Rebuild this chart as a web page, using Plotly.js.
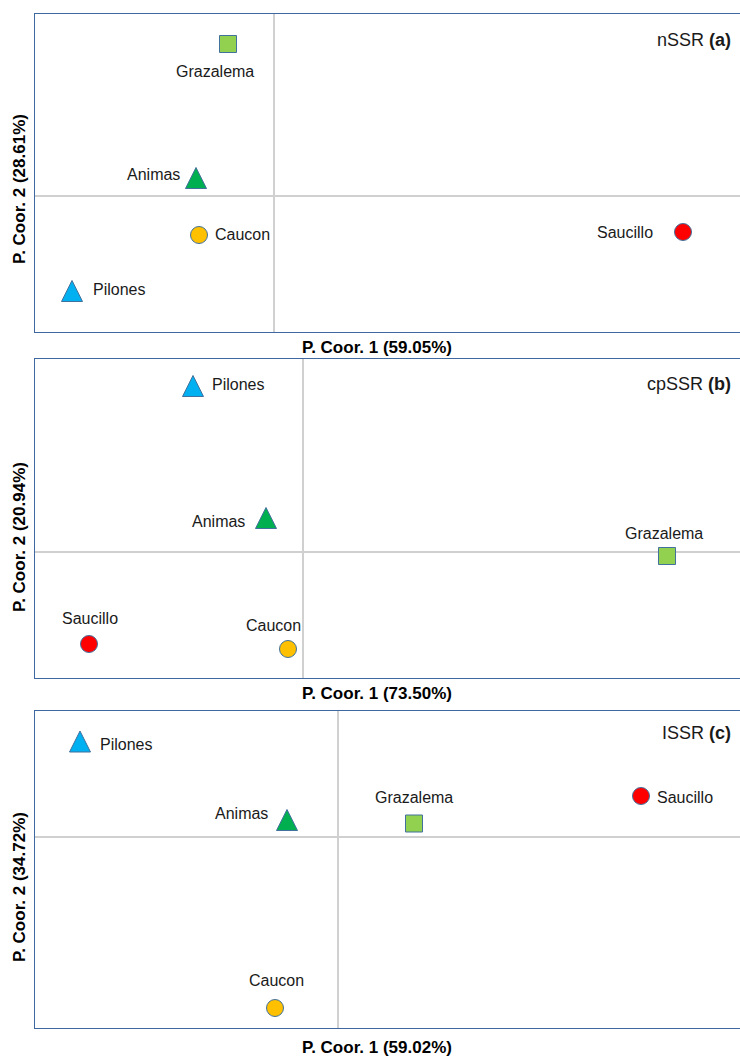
<!DOCTYPE html>
<html>
<head>
<meta charset="utf-8">
<script src="https://cdn.plot.ly/plotly-3.0.1.min.js"></script>
<style>
  html, body { margin: 0; padding: 0; overflow: hidden; background: #fff; }
  #chart { width: 750px; height: 1057px; }
</style>
</head>
<body>
<div id="chart"></div>
<script>
// ---------- DATA ----------
const populations = ['Grazalema', 'Animas', 'Caucon', 'Pilones', 'Saucillo'];

const nssrX = [-0.46, -0.78, -0.75, -2.02, 4.09];
const nssrY = [1.52, 0.18, -0.39, -0.95, -0.36];

const cpssrX = [3.64, -0.37, -0.15, -1.10, -2.14];
const cpssrY = [-0.04, 0.34, -0.97, 1.66, -0.92];

const issrX = [0.76, -0.51, -0.63, -2.58, 3.03];
const issrY = [0.135, 0.17, -1.71, 0.955, 0.41];

const panelTags = ['nSSR <b>(a)</b>', 'cpSSR <b>(b)</b>', 'ISSR <b>(c)</b>'];
const xTitles = ['P. Coor. 1 (59.05%)', 'P. Coor. 1 (73.50%)', 'P. Coor. 1 (59.02%)'];
const yTitles = ['P. Coor. 2 (28.61%)', 'P. Coor. 2 (20.94%)', 'P. Coor. 2 (34.72%)'];

// ---------- STYLE ----------
const W = 750, H = 1057;
const FONT = 'Liberation Sans, Arial, sans-serif';
// upward triangles are drawn as a rotated, re-centred arrow symbol (taller than Plotly's triangle)
const TRI = { symbol: 'arrow-down', angle: 180, size: 21, standoff: 10.5 };
const popStyle = {
  Grazalema: { symbol: 'square', color: '#92D050', size: 17, angle: 0, standoff: 0 },
  Animas:    Object.assign({ color: '#00B050' }, TRI),
  Caucon:    { symbol: 'circle', color: '#FFC000', size: 17, angle: 0, standoff: 0 },
  Pilones:   Object.assign({ color: '#00B0F0' }, TRI),
  Saucillo:  { symbol: 'circle', color: '#FF0000', size: 17, angle: 0, standoff: 0 }
};
// label placement per panel: [xanchor, xshift, yshift]
const labelPlace = [
  { Grazalema: ['center', -13, -28], Animas: ['right', -14, 3], Caucon: ['left', 14, 0], Pilones: ['left', 19, 1], Saucillo: ['right', -28, -1] },
  { Grazalema: ['center', -3, 23], Animas: ['right', -19, -3], Caucon: ['center', -15, 24], Pilones: ['left', 17, 2], Saucillo: ['center', 1, 26] },
  { Grazalema: ['center', 0, 26], Animas: ['right', -17, 7], Caucon: ['center', 1, 28], Pilones: ['left', 18, -2.5], Saucillo: ['left', 14, -1] }
];
// panel geometry in pixels
const panels = [
  { top: 14, bottom: 332, xr: [-2.39, 4.76], yr: [-1.36, 1.82], tagY: 40, xtY: 348, ytY: 189 },
  { top: 359, bottom: 678, xr: [-2.68, 4.47], yr: [-1.26, 1.93], tagY: 384, xtY: 693, ytY: 537 },
  { top: 711, bottom: 1028, xr: [-3.03, 4.12], yr: [-1.91, 1.26], tagY: 733, xtY: 1047, ytY: 887 }
];
const series = [[nssrX, nssrY], [cpssrX, cpssrY], [issrX, issrY]];

const traces = [];
const annotations = [];
const layout = {
  width: W, height: H,
  margin: { l: 0, r: 0, t: 0, b: 0 },
  paper_bgcolor: '#ffffff', plot_bgcolor: '#ffffff',
  showlegend: false,
  font: { family: FONT, color: '#000000' },
  annotations: annotations
};

panels.forEach((p, i) => {
  const sfx = i === 0 ? '' : String(i + 1);
  const xa = 'x' + sfx, ya = 'y' + sfx;
  const [xs, ys] = series[i];
  populations.forEach((n, k) => {
    const st = popStyle[n];
    traces.push({
      type: 'scatter', mode: 'markers', xaxis: xa, yaxis: ya, name: n,
      x: [xs[k]], y: [ys[k]], hoverinfo: 'name',
      marker: {
        symbol: st.symbol, color: st.color, size: st.size, opacity: 1,
        angle: st.angle, standoff: st.standoff,
        line: { color: '#41719C', width: 1 }
      },
      cliponaxis: false
    });
  });
  const axCommon = {
    showticklabels: false, ticks: '', showgrid: false,
    zeroline: true, zerolinecolor: '#D0D0D0', zerolinewidth: 1.5,
    showline: true, mirror: true, linecolor: '#3F67A0', linewidth: 1.2,
    fixedrange: true
  };
  layout['xaxis' + sfx] = Object.assign({}, axCommon, {
    domain: [35 / W, 1], range: p.xr, anchor: ya
  });
  layout['yaxis' + sfx] = Object.assign({}, axCommon, {
    domain: [1 - p.bottom / H, 1 - p.top / H], range: p.yr, anchor: xa
  });
  // point labels
  populations.forEach((n, k) => {
    const pl = labelPlace[i][n];
    annotations.push({
      xref: xa, yref: ya, x: xs[k], y: ys[k], text: n, showarrow: false,
      xanchor: pl[0], yanchor: 'middle', xshift: pl[1], yshift: pl[2],
      font: { family: FONT, size: 16, color: '#1a1a1a' }
    });
  });
  // panel tag
  annotations.push({
    xref: 'paper', yref: 'paper', x: 733 / W, y: 1 - p.tagY / H,
    xanchor: 'right', yanchor: 'middle', text: panelTags[i], showarrow: false,
    font: { family: FONT, size: 18, color: '#1a1a1a' }
  });
  // axis titles
  annotations.push({
    xref: 'paper', yref: 'paper', x: 377 / W, y: 1 - p.xtY / H,
    xanchor: 'center', yanchor: 'middle', text: '<b>' + xTitles[i] + '</b>', showarrow: false,
    font: { family: FONT, size: 17, color: '#000000' }
  });
  annotations.push({
    xref: 'paper', yref: 'paper', x: 19 / W, y: 1 - p.ytY / H,
    xanchor: 'center', yanchor: 'middle', textangle: -90,
    text: '<b>' + yTitles[i] + '</b>', showarrow: false,
    font: { family: FONT, size: 17, color: '#000000' }
  });
});

Plotly.newPlot('chart', traces, layout, { displayModeBar: false, staticPlot: true });
</script>
</body>
</html>
